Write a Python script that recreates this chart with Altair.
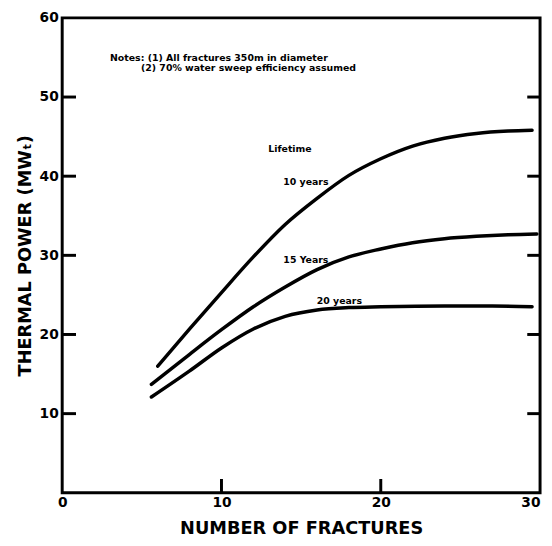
import altair as alt
import pandas as pd

# Curve data
frac_10 = [6, 8, 10, 12, 14, 16, 18, 20, 22, 24, 26, 28, 29.5]
pow_10 = [16.0, 20.7, 25.3, 29.8, 33.9, 37.2, 40.1, 42.2, 43.8, 44.8, 45.4, 45.7, 45.8]

frac_15 = [5.6, 8, 10, 12, 14, 16, 18, 20, 22, 24, 26, 28, 29.8]
pow_15 = [13.7, 17.5, 20.6, 23.5, 26.0, 28.2, 29.8, 30.8, 31.6, 32.1, 32.4, 32.6, 32.7]

frac_20 = [5.6, 8, 10, 12, 14, 16, 18, 20, 24, 27, 29.5]
pow_20 = [12.1, 15.4, 18.3, 20.7, 22.3, 23.1, 23.4, 23.5, 23.6, 23.6, 23.5]

x_labels = [0, 10, 20, 30]
y_labels = [10, 20, 30, 40, 50, 60]
x_inner_ticks = [10, 20]
y_inner_ticks = [10, 20, 30, 40, 50]

note_lines = ["Notes: (1) All fractures 350m in diameter",
              "(2) 70% water sweep efficiency assumed"]
note_x = [3.0, 4.95]
note_y = [54.9, 53.6]

curve_labels = ["Lifetime", "10 years", "15 Years", "20 years"]
curve_label_x = [14.3, 15.3, 15.3, 17.4]
curve_label_y = [43.4, 39.2, 29.4, 24.2]

W, H = 485, 482
FONT = "DejaVu Sans"

rows = []
for name, xs_, ys_ in [("10", frac_10, pow_10), ("15", frac_15, pow_15), ("20", frac_20, pow_20)]:
    for i, (a, b) in enumerate(zip(xs_, ys_)):
        rows.append({"life": name, "n": a, "p": b, "o": i})
curves = pd.DataFrame(rows)

xs = alt.Scale(domain=[0, 30], nice=False, zero=False)
ys = alt.Scale(domain=[0, 60], nice=False, zero=False)

x_axis = alt.Axis(values=x_labels, title="NUMBER OF FRACTURES", ticks=False, domain=False,
                  grid=False, labelFlush=False, labelPadding=3, labelFontSize=14,
                  labelAlign={"condition": {"test": "datum.value == 30", "value": "right"},
                              "value": "center"},
                  labelFont=FONT, labelFontWeight="bold", labelColor="black",
                  titleFontSize=18, titleFont=FONT, titleFontWeight="bold", titleColor="black",
                  titlePadding=10)
y_axis = alt.Axis(values=y_labels, title="THERMAL POWER (MWₜ)", ticks=False, domain=False,
                  grid=False, labelFlush=False, labelPadding=4, labelFontSize=14,
                  labelFont=FONT, labelFontWeight="bold", labelColor="black",
                  titleFontSize=18, titleFont=FONT, titleFontWeight="bold", titleColor="black",
                  titlePadding=5)

lines = alt.Chart(curves).mark_line(color="black", strokeWidth=3.5, interpolate="monotone",
                                    strokeCap="round").encode(
    x=alt.X("n:Q", scale=xs, axis=x_axis),
    y=alt.Y("p:Q", scale=ys, axis=y_axis),
    detail="life:N",
    order="o:Q",
)

yt = pd.DataFrame({"v": y_inner_ticks})
xt = pd.DataFrame({"v": x_inner_ticks})

left_ticks = alt.Chart(yt).mark_rule(color="black", strokeWidth=3).encode(
    y=alt.Y("v:Q", scale=ys), x=alt.value(0), x2=alt.value(14))
right_ticks = alt.Chart(yt).mark_rule(color="black", strokeWidth=3).encode(
    y=alt.Y("v:Q", scale=ys), x=alt.value(W - 13), x2=alt.value(W))
bottom_ticks = alt.Chart(xt).mark_rule(color="black", strokeWidth=3).encode(
    x=alt.X("v:Q", scale=xs), y=alt.value(H), y2=alt.value(H - 14))

notes = alt.Chart(pd.DataFrame({"t": note_lines, "x": note_x, "y": note_y})).mark_text(
    align="left", baseline="middle", font=FONT, fontWeight="bold", fontSize=9.5, color="black"
).encode(x=alt.X("x:Q", scale=xs), y=alt.Y("y:Q", scale=ys), text="t:N")

labels = alt.Chart(pd.DataFrame({"t": curve_labels, "x": curve_label_x, "y": curve_label_y})).mark_text(
    align="center", baseline="middle", font=FONT, fontWeight="bold", fontSize=9.5, color="black"
).encode(x=alt.X("x:Q", scale=xs), y=alt.Y("y:Q", scale=ys), text="t:N")

chart = alt.layer(lines, left_ticks, right_ticks, bottom_ticks, notes, labels).properties(
    width=W, height=H,
    autosize=alt.AutoSizeParams(type="none"),
    padding={"left": 55, "top": 6, "right": 4, "bottom": 52},
    background="white",
).configure_view(stroke="black", strokeWidth=3)

chart.save("out.html", embed_options={"renderer": "svg", "actions": False})
